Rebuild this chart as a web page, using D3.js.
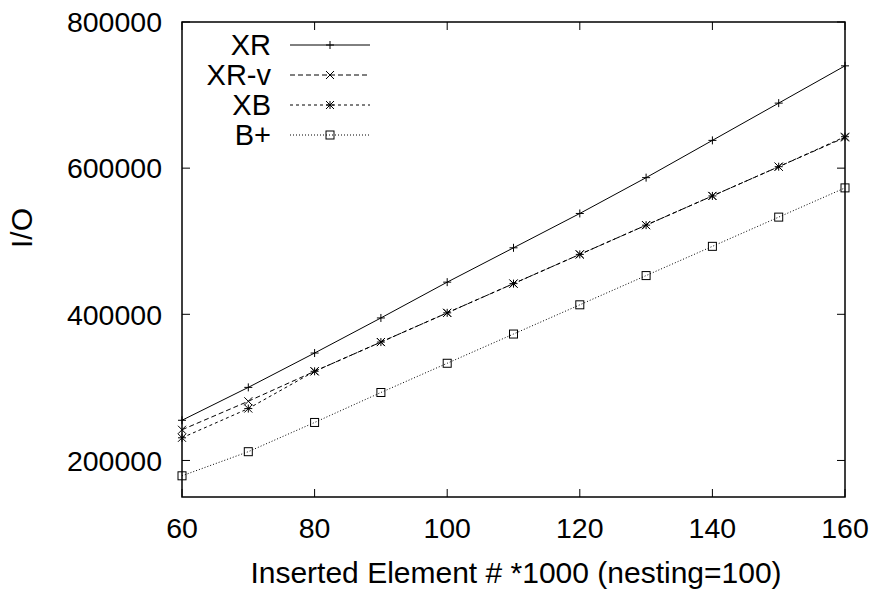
<!DOCTYPE html>
<html><head><meta charset="utf-8">
<script src="https://cdn.jsdelivr.net/npm/d3@7"></script>
<style>body{margin:0;background:#fff}svg{display:block}text{font-family:"Liberation Sans",Arial,sans-serif;fill:#000}</style>
</head><body>
<svg id="c" width="873" height="596"></svg>
<script>
const xValues = [60,70,80,90,100,110,120,130,140,150,160];
const xrValues  = [255000,300000,347000,395000,444000,491000,538000,587000,638000,689000,740000];
const xrvValues = [242000,281000,322000,362000,402000,442000,482000,522000,562000,602000,642000];
const xbValues  = [231000,271000,322000,362000,402000,442000,482000,522000,562000,602000,643000];
const bpValues  = [179000,212000,252000,293000,333000,373000,413000,453000,493000,533000,573000];
const seriesNames = ["XR","XR-v","XB","B+"];
const xTicks = [60,80,100,120,140,160];
const yTicks = [200000,400000,600000,800000];
const xTitle = "Inserted Element # *1000 (nesting=100)";
const yTitle = "I/O";

const svg = d3.select("#c");
const L=182,R=845,T=22,B=497;
const x = d3.scaleLinear().domain([60,160]).range([L,R]);
const y = d3.scaleLinear().domain([150000,800000]).range([B,T]);
const FS=28.5, FT=30, FL=29;

const tk = svg.append("g").attr("stroke","#000").attr("stroke-width",1);
xTicks.forEach(v=>{
  tk.append("line").attr("x1",x(v)).attr("x2",x(v)).attr("y1",B).attr("y2",B-8);
  tk.append("line").attr("x1",x(v)).attr("x2",x(v)).attr("y1",T).attr("y2",T+8);
});
yTicks.forEach(v=>{
  tk.append("line").attr("x1",L).attr("x2",L+8).attr("y1",y(v)).attr("y2",y(v));
  tk.append("line").attr("x1",R).attr("x2",R-8).attr("y1",y(v)).attr("y2",y(v));
});
xTicks.forEach(v=>svg.append("text").attr("x",x(v)).attr("y",538).attr("text-anchor","middle").attr("font-size",FS).text(v));
yTicks.forEach(v=>svg.append("text").attr("x",162).attr("y",y(v)).attr("dy","0.36em").attr("text-anchor","end").attr("font-size",FS).text(v));
svg.append("text").attr("x",516).attr("y",583).attr("text-anchor","middle").attr("font-size",FT).text(xTitle);
svg.append("text").attr("transform","translate(32,228) rotate(-90)").attr("text-anchor","middle").attr("font-size",FT).text(yTitle);

const styles = [
  {vals:xrValues, dash:null, m:"plus"},
  {vals:xrvValues, dash:"5,3", m:"cross"},
  {vals:xbValues, dash:"3,3", m:"star"},
  {vals:bpValues, dash:"1,2", m:"box"}
];
function marker(g,cx,cy,t){
  const s=4;
  const p = g.append("g").attr("stroke","#000").attr("stroke-width",1).attr("fill","none");
  if(t==="plus"||t==="star"){
    p.append("line").attr("x1",cx-s).attr("x2",cx+s).attr("y1",cy).attr("y2",cy);
    p.append("line").attr("x1",cx).attr("x2",cx).attr("y1",cy-s).attr("y2",cy+s);
  }
  if(t==="cross"||t==="star"){
    p.append("line").attr("x1",cx-s).attr("x2",cx+s).attr("y1",cy-s).attr("y2",cy+s);
    p.append("line").attr("x1",cx-s).attr("x2",cx+s).attr("y1",cy+s).attr("y2",cy-s);
  }
  if(t==="box"){
    p.append("rect").attr("x",cx-s).attr("y",cy-s).attr("width",2*s).attr("height",2*s);
  }
}
const line = d3.line().x((d,i)=>x(xValues[i])).y(d=>y(d));
styles.forEach((s,k)=>{
  const g = svg.append("g");
  g.append("path").attr("d",line(s.vals)).attr("fill","none").attr("stroke","#000").attr("stroke-width",1)
   .attr("stroke-dasharray",s.dash);
  s.vals.forEach((v,i)=>marker(g,x(xValues[i]),y(v),s.m));
  const ly = 45+30*k;
  svg.append("text").attr("x",271).attr("y",ly).attr("dy","0.36em").attr("text-anchor","end").attr("font-size",FL).text(seriesNames[k]);
  g.append("line").attr("x1",290).attr("x2",370).attr("y1",ly).attr("y2",ly).attr("stroke","#000").attr("stroke-width",1).attr("stroke-dasharray",s.dash);
  marker(g,330,ly,s.m);
});

svg.append("rect").attr("x",L).attr("y",T).attr("width",R-L).attr("height",B-T).attr("fill","none").attr("stroke","#000").attr("stroke-width",1.5);
</script>
</body></html>
